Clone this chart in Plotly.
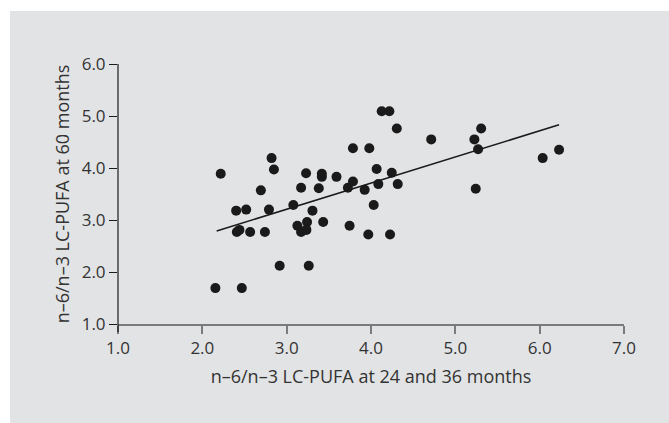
import plotly.graph_objects as go

x_vals = [2.155, 2.218, 2.401, 2.520, 2.409, 2.440, 2.567, 2.468, 2.694, 2.742,
          2.790, 2.821, 2.849, 2.917, 3.079, 3.127, 3.171, 3.171, 3.230, 3.234,
          3.242, 3.262, 3.306, 3.381, 3.417, 3.417, 3.433, 3.591, 3.726, 3.746,
          3.786, 3.786, 3.925, 3.968, 3.980, 4.032, 4.067, 4.087, 4.127, 4.218,
          4.246, 4.226, 4.306, 4.317, 4.714, 5.226, 5.306, 5.270, 5.242, 6.036,
          6.230]
y_vals = [1.69, 3.89, 3.18, 3.20, 2.77, 2.81, 2.77, 1.69, 3.57, 2.77,
          3.20, 4.19, 3.97, 2.12, 3.29, 2.89, 3.62, 2.77, 3.90, 2.81,
          2.96, 2.12, 3.18, 3.61, 3.89, 3.83, 2.96, 3.83, 3.62, 2.89,
          4.38, 3.74, 3.58, 2.72, 4.38, 3.29, 3.98, 3.69, 5.09, 5.09,
          3.91, 2.72, 4.76, 3.69, 4.55, 4.55, 4.76, 4.36, 3.60, 4.19,
          4.35]

fit_x = [2.17, 6.23]
fit_y = [2.79, 4.83]

x_ticks = [1, 2, 3, 4, 5, 6, 7]
y_ticks = [1, 2, 3, 4, 5, 6]

BG = "#e2e3e5"
TXT = "#333333"
FONT = "Open Sans"
FS = 17
FT = 18

fig = go.Figure()
fig.add_trace(go.Scatter(x=x_vals, y=y_vals, mode="markers",
                         marker=dict(size=10, color="#1a1a1a"),
                         showlegend=False, hoverinfo="x+y"))
fig.add_trace(go.Scatter(x=fit_x, y=fit_y, mode="lines",
                         line=dict(color="#1a1a1a", width=1.5),
                         showlegend=False, hoverinfo="skip"))

ml, mr, mt, mb = 118, 45, 64, 99
W, H = 669, 423
pw, ph = W - ml - mr, H - mt - mb

fig.add_shape(type="rect", xref="paper", yref="paper",
              x0=(10 - ml) / pw, x1=(W + 5 - ml) / pw,
              y0=(mt + ph - (H + 5)) / ph, y1=(mt + ph - 11) / ph,
              fillcolor=BG, line=dict(width=0), layer="below")
fig.add_shape(type="line", xref="paper", yref="paper",
              x0=0, x1=0, y0=-8 / ph, y1=1,
              line=dict(color="#1a1a1a", width=1.2), layer="above")

fig.update_layout(
    width=W, height=H,
    margin=dict(l=ml, r=mr, t=mt, b=mb, pad=0),
    paper_bgcolor="white",
    plot_bgcolor="rgba(0,0,0,0)",
    font=dict(family=FONT, size=FS, color=TXT),
    xaxis=dict(range=[1, 7], tickvals=x_ticks,
               ticktext=[f"{v:.1f}" for v in x_ticks],
               showgrid=False, zeroline=False,
               showline=True, linecolor="#7a7a7a", linewidth=2,
               ticks="outside", ticklen=8, tickcolor="#7a7a7a", tickwidth=1.5,
               tickfont=dict(size=FS, color=TXT),
               title=dict(text="n\u20136/n\u20133 LC-PUFA at 24 and 36 months",
                          font=dict(size=FT, color=TXT), standoff=12)),
    yaxis=dict(range=[1, 6], tickvals=y_ticks,
               ticktext=[f"{v:.1f}" for v in y_ticks],
               showgrid=False, zeroline=False,
               showline=False,
               ticks="outside", ticklen=8, tickcolor="#1a1a1a", tickwidth=1,
               tickfont=dict(size=FS, color=TXT),
               title=dict(text="n\u20136/n\u20133 LC-PUFA at 60 months",
                          font=dict(size=FT, color=TXT), standoff=7)),
)

fig.write_html("out.html", config={"displayModeBar": False},
               post_script="document.body.style.margin='0';")
